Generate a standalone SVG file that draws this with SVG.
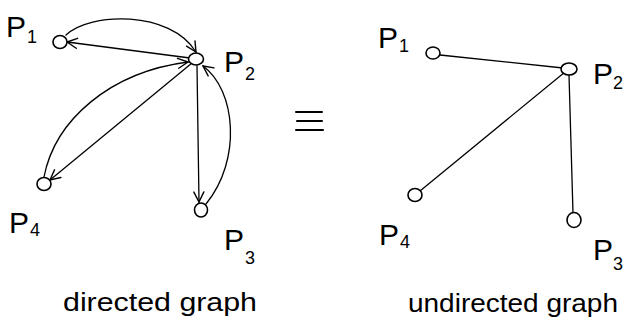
<svg xmlns="http://www.w3.org/2000/svg" width="625" height="324" viewBox="0 0 625 324">
<defs>
<marker id="arr" viewBox="0 0 12 12" refX="11" refY="6" markerWidth="12" markerHeight="12" markerUnits="userSpaceOnUse" orient="auto">
<path d="M1,1 L11,6 L1,11" fill="none" stroke="#000" stroke-width="1.4" stroke-linecap="round"/>
</marker>
<style>
.node{fill:#fff;stroke:#000;stroke-width:1.6}
.edge{fill:none;stroke:#000;stroke-width:1.3;stroke-linecap:round}
.lbl{font-family:"Liberation Sans","DejaVu Sans",sans-serif;fill:#000}
.p{font-size:30px}
.s{font-size:18px}
.cap{font-family:"Liberation Sans","DejaVu Sans",sans-serif;font-size:25px;fill:#000}
.eq{stroke:#000;stroke-width:2;stroke-linecap:round}
</style>
</defs>
<rect width="625" height="324" fill="#fff"/>
<g id="connectors">
<g id="directed-edges">
<line class="edge" x1="190" y1="58" x2="67" y2="42" marker-end="url(#arr)"/>
<path class="edge" d="M66,35 C 90,12 170,10 196,52" marker-end="url(#arr)"/>
<line class="edge" x1="192" y1="63" x2="50" y2="180" marker-end="url(#arr)"/>
<path class="edge" d="M44,177 C 55,120 110,72 188,62" marker-end="url(#arr)"/>
<line class="edge" x1="197" y1="66" x2="199" y2="202" marker-end="url(#arr)"/>
<path class="edge" d="M206,204 C 242,160 236,90 203,66" marker-end="url(#arr)"/>
</g>
<g id="undirected-edges">
<line class="edge" x1="440" y1="55" x2="563" y2="68"/>
<line class="edge" x1="565" y1="72" x2="420" y2="191"/>
<line class="edge" x1="569" y1="75" x2="573" y2="213"/>
</g>
</g>
<g id="d-p1"><ellipse class="node" cx="60" cy="42" rx="7" ry="6.5"/><text class="lbl"><tspan class="p" x="6" y="37">P</tspan><tspan class="s" x="27" y="43">1</tspan></text></g>
<g id="d-p2"><ellipse class="node" cx="196" cy="59" rx="7.5" ry="6"/><text class="lbl"><tspan class="p" x="224" y="72">P</tspan><tspan class="s" x="245" y="80">2</tspan></text></g>
<g id="d-p3"><ellipse class="node" cx="201" cy="210" rx="6.5" ry="7"/><text class="lbl"><tspan class="p" x="224" y="250">P</tspan><tspan class="s" x="245" y="264">3</tspan></text></g>
<g id="d-p4"><ellipse class="node" cx="44" cy="184" rx="7" ry="6.5"/><text class="lbl"><tspan class="p" x="9" y="233">P</tspan><tspan class="s" x="30" y="236">4</tspan></text></g>
<g id="equiv">
<line class="eq" x1="296" y1="112" x2="322" y2="112"/>
<line class="eq" x1="297" y1="121" x2="322" y2="121"/>
<line class="eq" x1="296" y1="130" x2="323" y2="130"/>
</g>
<g id="u-p1"><ellipse class="node" cx="433" cy="53" rx="7" ry="6"/><text class="lbl"><tspan class="p" x="378" y="48">P</tspan><tspan class="s" x="399" y="52">1</tspan></text></g>
<g id="u-p2"><ellipse class="node" cx="569" cy="69" rx="8" ry="6"/><text class="lbl"><tspan class="p" x="593" y="84">P</tspan><tspan class="s" x="613" y="89">2</tspan></text></g>
<g id="u-p3"><ellipse class="node" cx="574" cy="220" rx="7" ry="7.5"/><text class="lbl"><tspan class="p" x="593" y="260">P</tspan><tspan class="s" x="613" y="270">3</tspan></text></g>
<g id="u-p4"><ellipse class="node" cx="415" cy="195" rx="7" ry="6.5"/><text class="lbl"><tspan class="p" x="379" y="245">P</tspan><tspan class="s" x="400" y="248">4</tspan></text></g>
<text class="cap" x="63" y="311" textLength="194" lengthAdjust="spacingAndGlyphs">directed graph</text>
<text class="cap" x="408" y="312" textLength="210" lengthAdjust="spacingAndGlyphs">undirected graph</text>
</svg>
